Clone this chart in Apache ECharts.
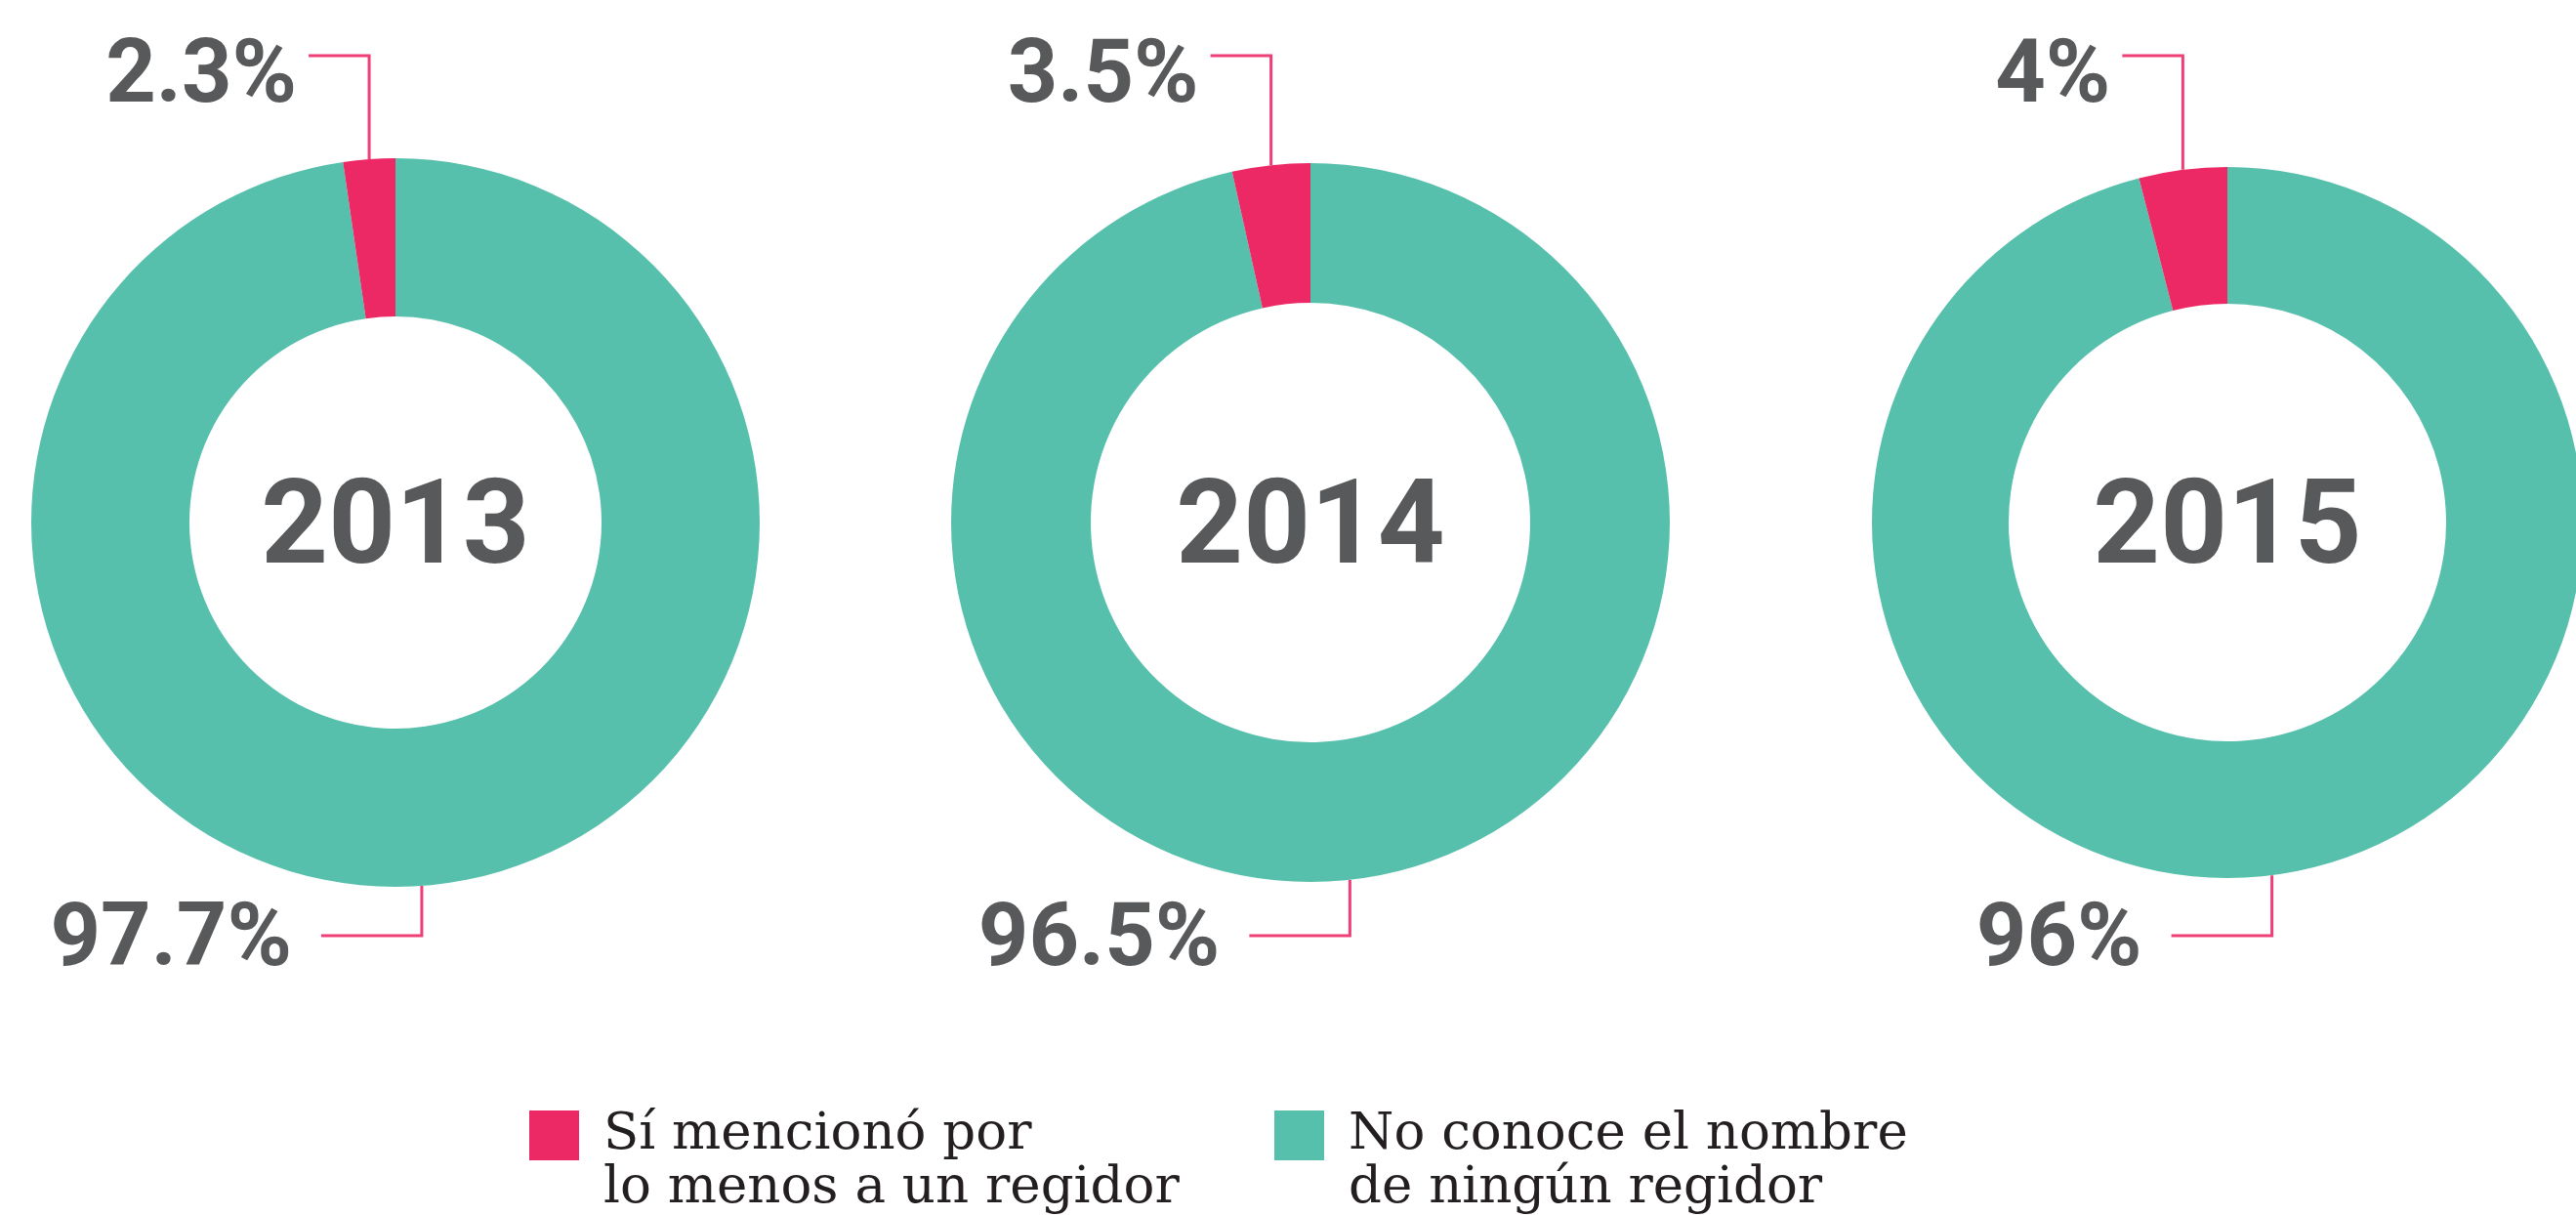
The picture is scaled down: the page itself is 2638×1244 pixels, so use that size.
<!DOCTYPE html>
<html>
<head>
<meta charset="utf-8">
<script src="https://cdn.jsdelivr.net/npm/echarts@6/dist/echarts.min.js"></script>
<style>
  html, body { margin: 0; padding: 0; background: #fff; }
  #chart { width: 2638px; height: 1244px; }
</style>
</head>
<body>
<div id="chart"></div>
<script>
// 数据
const years = ["2013", "2014", "2015"];
const categories = [
  "Sí mencionó por\nlo menos a un regidor",
  "No conoce el nombre\nde ningún regidor",
];
const mentioned = [2.3, 3.5, 4];
const notKnown = [97.7, 96.5, 96];

const PINK = "#ec2865";
const TEAL = "#57c0ad";
const GREY = "#58595b";

// 环形图位置和半径
const pies = [
  { center: [405, 535], radius: [211, 373] },
  { center: [1342, 535], radius: [225, 368] },
  { center: [2281, 535], radius: [224, 364] },
];

// 引导线的水平位置
const topLineY = 57;
const bottomLineY = 958;

const chart = echarts.init(document.getElementById("chart"));

function anchor(params) {
  // 扇区中点（外半径）
  if (params.labelLinePoints && params.labelLinePoints[0]) {
    return params.labelLinePoints[0];
  }
  const i = params.seriesIndex;
  const pie = pies[i];
  const frac = params.dataIndex === 1
    ? (notKnown[i] + mentioned[i] / 2) / 100
    : notKnown[i] / 200;
  const a = frac * Math.PI * 2;
  return [pie.center[0] + pie.radius[1] * Math.sin(a), pie.center[1] - pie.radius[1] * Math.cos(a)];
}

function labelLayout(params) {
  const [x1, y1] = anchor(params);
  if (params.dataIndex === 1) {
    const xEnd = x1 - 62;
    return {
      x: xEnd - 12,
      y: topLineY + 24,
      align: "right",
      verticalAlign: "middle",
      labelLinePoints: [[x1, y1], [x1, topLineY], [xEnd, topLineY]],
    };
  }
  const xEnd = x1 - 103;
  return {
    x: xEnd - 30,
    y: bottomLineY + 7,
    align: "right",
    verticalAlign: "middle",
    labelLinePoints: [[x1, y1], [x1, bottomLineY], [xEnd, bottomLineY]],
  };
}

const options = {
  backgroundColor: "#fff",
  animation: false,
  title: years.map((y, i) => ({
    text: y,
    left: pies[i].center[0],
    top: pies[i].center[1] + 11,
    padding: 0,
    textAlign: "center",
    textVerticalAlign: "middle",
    textStyle: {
      color: GREY,
      fontFamily: "Roboto",
      fontWeight: "bold",
      fontSize: 120,
    },
  })),
  legend: categories.map((c, i) => ({
    data: [c],
    left: [542, 1305][i],
    top: 1080,
    padding: 0,
    icon: "rect",
    itemWidth: 51,
    itemHeight: 51,
    selectedMode: false,
    // 第一行与色块对齐
    formatter: (name) => "\n" + name,
    textStyle: {
      color: "#231f20",
      fontFamily: "DejaVu Serif",
      fontSize: 53,
      lineHeight: 55,
      padding: [0, 0, 0, 20],
    },
  })),
  series: years.map((y, i) => ({
    type: "pie",
    name: y,
    center: pies[i].center,
    radius: pies[i].radius,
    startAngle: 90,
    clockwise: true,
    avoidLabelOverlap: false,
    silent: true,
    data: [
      { name: categories[1], value: notKnown[i], itemStyle: { color: TEAL } },
      { name: categories[0], value: mentioned[i], itemStyle: { color: PINK } },
    ],
    label: {
      show: true,
      position: "outside",
      formatter: (p) => p.value + "%",
      color: GREY,
      fontFamily: "Roboto",
      fontWeight: "bold",
      fontSize: 90,
    },
    labelLine: {
      show: true,
      lineStyle: { color: "#ee3f77", width: 3 },
    },
    labelLayout: labelLayout,
  })),
};

chart.setOption(options);
</script>
</body>
</html>
